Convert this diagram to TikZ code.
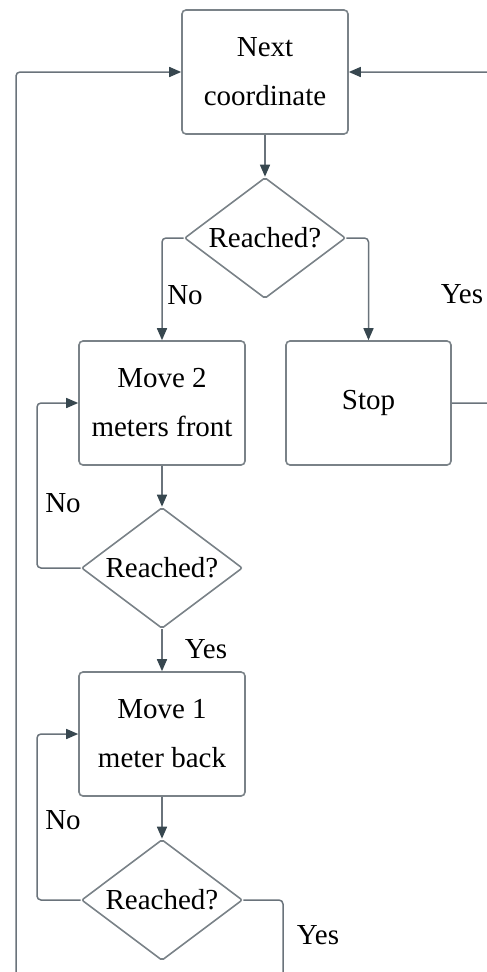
\documentclass[tikz,border=0pt]{standalone}
\usepackage{fontspec}
\setmainfont{Liberation Serif}
\usetikzlibrary{shapes.geometric,arrows.meta}
\definecolor{boxline}{HTML}{7A8288}
\definecolor{connline}{HTML}{6A737B}
\definecolor{tipdark}{HTML}{37474F}
\begin{document}
\begin{tikzpicture}[x=1pt,y=-1pt,
  every node/.style={font=\fontsize{29}{49}\selectfont},
  procbox/.style={draw=boxline,line width=1.6pt,rounded corners=4pt,
    minimum width=166pt,minimum height=124pt,inner sep=0pt,align=center},
  decision/.style={diamond,draw=boxline,line width=1.6pt,rounded corners=2pt,
    aspect=1.3,minimum width=161pt,minimum height=121pt,inner sep=0pt},
  conn/.style={draw=connline,line width=1.5pt,rounded corners=4pt},
  arr/.style={conn,-{Triangle[length=12pt,width=10pt,color=tipdark]}},
  lbl/.style={inner sep=0pt}]
  \useasboundingbox (0,0) rectangle (487,972);
  \clip (0,0) rectangle (487,972);

  % nodes
  \node[procbox] (next) at (265,72) {Next\\coordinate};
  \node[decision] (r1) at (265,238) {Reached?};
  \node[procbox] (front) at (162,403) {Move 2\\meters front};
  \node[procbox,minimum width=165pt] (stop) at (368.5,403) {Stop};
  \node[decision] (r2) at (162,568) {Reached?};
  \node[procbox] (back) at (162,734) {Move 1\\meter back};
  \node[decision] (r3) at (162,900) {Reached?};

  % free ends of the return loops
  \coordinate (rtop) at (497,72);
  \coordinate (rbot) at (497,403);
  \coordinate (lbot) at (16,978);
  \coordinate (ybot) at (283,978);

  % connectors
  \draw[arr] (next.south) -- (r1.north);
  \draw[arr] (r1.west) -| (front.north);
  \draw[arr] (r1.east) -| (stop.north);
  \draw[arr] (stop.east) -- (rbot) -- (rtop) -- (next.east);
  \draw[arr] (front.south) -- (r2.north);
  \draw[arr] (r2.west) -- (37,568) |- (front.west);
  \draw[arr] (r2.south) -- (back.north);
  \draw[arr] (back.south) -- (r3.north);
  \draw[arr] (r3.west) -- (37,900) |- (back.west);
  \draw[arr] (r3.east) -| (ybot) -- (lbot) |- (next.west);

  % branch labels
  \node[lbl] (no1) at (185,295) {No};
  \node[lbl] (yes1) at (462,294) {Yes};
  \node[lbl] (no2) at (63,503) {No};
  \node[lbl] (yes2) at (206,649) {Yes};
  \node[lbl] (no3) at (63,820) {No};
  \node[lbl] (yes3) at (318,935) {Yes};
\end{tikzpicture}
\end{document}
